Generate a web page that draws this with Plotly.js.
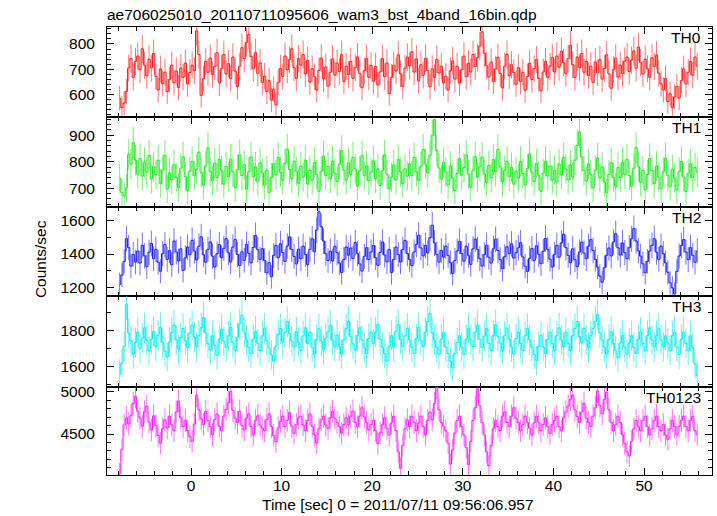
<!DOCTYPE html>
<html><head><meta charset="utf-8">
<script src="https://cdn.plot.ly/plotly-3.0.1.min.js"></script>
<style>html,body{margin:0;padding:0;background:#fff;}#chart{width:717px;height:516px;}</style>
</head><body><div id="chart"></div>
<script>
// ---- data ----
const tStart = -8;        // first bin start [sec]
const binSize = 0.25;     // bin width [sec]
const bandNames = ['TH0', 'TH1', 'TH2', 'TH3', 'TH0123'];
const xTickVals = [0, 10, 20, 30, 40, 50];

const th0 = [
585,548,566,612,705,742,668,731,752,698,781,716,674,739,705,762,
672,618,701,643,688,612,659,716,647,693,628,705,668,724,642,687,
716,694,852,758,597,662,731,688,744,679,712,765,646,703,758,681,
722,664,748,693,631,712,785,742,806,838,751,702,766,684,725,648,
673,612,655,578,621,559,648,703,671,752,698,738,781,706,664,742,
716,758,682,735,649,702,671,618,695,744,662,709,633,688,741,677,
724,691,758,652,712,679,731,664,706,749,683,627,694,742,668,715,
652,711,638,689,742,671,725,604,668,716,693,757,682,631,704,748,
713,769,689,741,654,718,676,743,695,631,702,668,739,685,712,646,
672,618,694,733,661,712,645,698,752,671,724,689,758,711,746,792,
848,763,714,669,728,652,701,747,683,626,712,759,674,718,687,641,
706,652,688,617,671,724,659,702,738,664,615,689,731,668,712,746,
689,752,708,771,726,684,742,795,718,667,748,706,762,688,731,675,
712,648,729,686,738,661,703,757,682,625,698,744,669,716,683,732,
748,691,736,772,704,788,726,681,739,702,668,745,711,756,684,642,
618,664,572,603,548,591,632,586,655,701,642,688,731,676,748,712];

const th1 = [
738,684,671,702,828,791,872,806,753,812,746,798,761,824,735,781,
752,806,718,769,824,697,758,732,789,741,703,776,818,744,692,765,
801,748,772,836,759,712,784,852,763,729,795,741,808,768,716,782,
744,809,762,703,771,826,748,789,697,762,818,743,781,724,796,758,
712,768,684,741,793,752,816,761,729,794,847,771,736,802,764,719,
783,742,806,716,768,731,797,752,689,764,821,748,782,736,803,757,
726,791,842,768,731,796,752,817,774,708,766,823,748,785,729,761,
803,736,772,711,768,826,754,697,742,788,731,809,762,718,774,746,
792,748,816,763,729,781,846,792,758,823,898,958,842,776,735,798,
761,712,784,738,692,756,812,749,778,826,753,704,768,819,742,781,
817,754,721,786,739,808,762,846,781,724,768,801,743,779,716,763,
738,801,756,712,774,829,761,726,793,748,689,757,802,746,784,731,
768,724,792,751,816,773,732,788,742,806,861,912,818,766,727,792,
751,702,768,814,739,781,724,683,752,796,741,706,778,741,798,752,
809,748,707,776,853,781,723,768,694,752,812,766,717,784,742,698,
763,814,748,706,772,738,694,762,801,742,688,756,792,741,778,761];

const th2 = [
1218,1274,1356,1492,1438,1328,1397,1352,1418,1346,1452,1389,1324,1411,1463,1372,
1428,1351,1297,1402,1456,1368,1421,1336,1478,1412,1358,1431,1302,1377,1442,1396,
1482,1418,1364,1447,1503,1396,1351,1428,1472,1387,1322,1401,1456,1378,1434,1492,
1408,1352,1441,1486,1397,1331,1413,1362,1458,1404,1347,1439,1511,1426,1368,1432,
1361,1287,1348,1264,1392,1451,1378,1462,1409,1356,1448,1503,1427,1386,1341,1429,
1372,1447,1398,1336,1428,1491,1413,1544,1652,1563,1478,1402,1361,1417,1358,1446,
1408,1346,1289,1367,1442,1393,1436,1374,1468,1402,1341,1298,1386,1438,1367,1412,
1451,1378,1332,1409,1472,1394,1353,1426,1289,1368,1441,1397,1352,1427,1481,1403,
1368,1331,1412,1457,1512,1436,1389,1452,1406,1497,1572,1466,1398,1352,1421,1381,
1447,1392,1348,1283,1362,1418,1476,1403,1357,1446,1392,1338,1431,1489,1427,1372,
1328,1396,1452,1381,1346,1432,1488,1421,1367,1312,1384,1443,1402,1461,1376,1408,
1437,1468,1382,1327,1296,1374,1432,1361,1449,1398,1342,1416,1493,1428,1369,1322,
1398,1452,1381,1466,1519,1438,1392,1348,1431,1366,1324,1412,1471,1406,1372,1447,
1486,1421,1368,1322,1268,1231,1318,1392,1436,1388,1472,1521,1437,1394,1466,1408,
1372,1438,1491,1552,1478,1419,1387,1341,1288,1356,1418,1452,1492,1411,1368,1447,
1402,1347,1291,1228,1198,1162,1296,1388,1451,1486,1412,1367,1438,1392,1351,1418];

const th3 = [
1552,1618,1712,1948,1786,1742,1668,1734,1792,1701,1758,1816,1745,1688,1752,1796,
1712,1774,1818,1731,1684,1652,1736,1789,1832,1748,1695,1761,1812,1743,1706,1788,
1831,1764,1708,1772,1816,1874,1788,1726,1692,1771,1718,1662,1752,1809,1741,1706,
1772,1818,1731,1689,1763,1838,1886,1792,1748,1706,1671,1752,1796,1727,1688,1771,
1814,1743,1702,1664,1628,1712,1778,1812,1736,1789,1852,1784,1742,1708,1793,1731,
1689,1771,1816,1728,1792,1706,1668,1752,1811,1743,1692,1758,1794,1831,1747,1708,
1776,1712,1668,1751,1812,1852,1768,1726,1691,1773,1816,1748,1703,1672,1756,1792,
1728,1791,1834,1752,1706,1671,1628,1712,1772,1708,1796,1834,1751,1709,1771,1814,
1748,1706,1672,1756,1818,1746,1712,1792,1852,1896,1788,1748,1706,1668,1752,1791,
1708,1671,1628,1592,1671,1733,1772,1708,1666,1752,1813,1748,1711,1792,1831,1752,
1706,1771,1812,1728,1688,1772,1833,1768,1731,1689,1772,1814,1752,1708,1668,1756,
1792,1728,1688,1771,1812,1748,1709,1666,1631,1712,1772,1708,1671,1752,1791,1728,
1688,1772,1816,1748,1708,1792,1731,1688,1772,1812,1852,1768,1731,1813,1748,1706,
1771,1812,1852,1892,1788,1748,1706,1668,1752,1796,1728,1688,1648,1731,1772,1708,
1668,1731,1772,1706,1672,1751,1792,1728,1688,1772,1816,1748,1708,1772,1813,1748,
1708,1771,1731,1688,1772,1791,1708,1666,1752,1792,1728,1688,1771,1706,1612,1548];

const th0123 = [
4028,4312,4608,4692,4621,4718,4862,4948,4771,4688,4592,4763,4831,4642,4548,4716,
4598,4482,4391,4562,4668,4571,4712,4608,4538,4762,4892,4691,4588,4662,4541,4468,
4412,4618,4962,4788,4681,4612,4768,4662,4588,4492,4671,4738,4592,4538,4712,4792,
4871,5008,4782,4688,4638,4771,4602,4548,4692,4738,4588,4488,4662,4718,4608,4571,
4538,4671,4738,4588,4482,4408,4572,4652,4712,4588,4662,4758,4592,4508,4612,4691,
4712,4608,4538,4662,4738,4592,4488,4392,4562,4668,4712,4608,4568,4692,4768,4688,
4638,4588,4508,4612,4692,4608,4712,4772,4638,4588,4712,4812,4708,4638,4548,4612,
4662,4538,4388,4512,4612,4692,4568,4488,4632,4712,4538,4288,4092,4362,4562,4668,
4588,4712,4638,4538,4632,4712,4588,4488,4662,4762,4668,4862,5058,4788,4638,4592,
4538,4392,4142,4312,4512,4662,4712,4588,4488,4338,4138,4412,4662,4812,5038,4838,
4638,4488,4288,4122,4362,4562,4662,4588,4538,4712,4762,4638,4588,4712,4812,4688,
4638,4538,4612,4712,4638,4568,4488,4632,4712,4638,4538,4612,4692,4588,4508,4612,
4662,4712,4588,4538,4692,4762,4832,4912,4962,4788,4708,4638,4762,4862,4688,4638,
4588,4712,4812,5012,4838,4738,4912,4998,4788,4638,4538,4612,4712,4638,4488,4388,
4288,4238,4412,4562,4662,4588,4538,4662,4712,4588,4488,4562,4662,4712,4588,4538,
4612,4488,4438,4562,4662,4588,4488,4592,4662,4712,4588,4538,4662,4712,4538,4492];

// ---- styles / layout helpers ----
const series = [th0, th1, th2, th3, th0123];
const lineColors = ['#ff1a1a', '#1aee1a', '#1a1aff', '#00f0f0', '#ff1aff'];
const errColors = ['rgba(255,0,0,0.55)', 'rgba(0,230,0,0.55)', 'rgba(0,0,255,0.55)', 'rgba(0,230,230,0.6)', 'rgba(255,0,255,0.55)'];
const yRanges = [[513, 867], [631, 970], [1149, 1683], [1486, 1995], [4012, 5065]];
const yDticks = [100, 100, 200, 200, 500];
const yMinor = [20, 20, 100, 100, 100];
const domains = [[0.8002, 1], [0.5989, 0.8002], [0.3996, 0.5989], [0.1975, 0.3996], [0, 0.1975]];
const FONT = 'Liberation Sans, Arial, sans-serif';

const traces = series.map((vals, i) => {
  const x = vals.map((_, k) => tStart + binSize * (k + 0.5));
  const err = vals.map(v => Math.sqrt(v * binSize) / binSize);
  const sfx = i === 0 ? '' : String(i + 1);
  return {
    x: x, y: vals, type: 'scatter', mode: 'lines',
    line: {shape: 'hvh', color: lineColors[i], width: 1},
    error_y: {type: 'data', array: err, visible: true, thickness: 1, width: 0, color: errColors[i]},
    xaxis: 'x' + sfx, yaxis: 'y' + sfx, hoverinfo: 'skip', showlegend: false
  };
});

const layout = {
  width: 717, height: 516,
  margin: {l: 107, r: 5, t: 27, b: 41},
  paper_bgcolor: '#fff', plot_bgcolor: '#fff',
  font: {family: FONT, size: 15.5, color: '#000'},
  title: {text: 'ae706025010_20110711095606_wam3_bst_4band_16bin.qdp',
          x: 0, xref: 'paper', xanchor: 'left', y: 1 - 15 / 516, yref: 'container', yanchor: 'middle',
          font: {family: FONT, size: 15.5, color: '#000'}},
  showlegend: false,
  annotations: []
};

for (let i = 0; i < 5; i++) {
  const sfx = i === 0 ? '' : String(i + 1);
  layout['xaxis' + sfx] = {
    domain: [0, 1], anchor: 'y' + sfx, range: [-9.27, 57.5],
    tickvals: xTickVals, ticks: 'inside', ticklen: 7, tickcolor: '#000', tickwidth: 1,
    minor: {dtick: 2, tick0: 0, ticks: 'inside', ticklen: 4, tickcolor: '#000', showgrid: false},
    showline: true, linecolor: '#000', linewidth: 1, mirror: 'ticks',
    showgrid: false, zeroline: false, showticklabels: i === 4,
    ticklabelstandoff: -4,
    matches: i === 0 ? undefined : 'x'
  };
  layout['yaxis' + sfx] = {
    domain: domains[i], anchor: 'x' + sfx, range: yRanges[i],
    dtick: yDticks[i], tick0: 0, ticks: 'inside', ticklen: 7, tickcolor: '#000', tickwidth: 1,
    minor: {dtick: yMinor[i], tick0: 0, ticks: 'inside', ticklen: 4, tickcolor: '#000', showgrid: false},
    showline: true, linecolor: '#000', linewidth: 1, mirror: 'ticks',
    showgrid: false, zeroline: false, ticklabelstandoff: 8
  };
  layout.annotations.push({
    text: bandNames[i], xref: 'paper', yref: 'paper', x: 0.985, y: domains[i][1],
    xanchor: 'right', yanchor: 'top', showarrow: false, font: {family: FONT, size: 15.5, color: '#000'}
  });
}
layout.annotations.push({
  text: 'Time [sec] 0 = 2011/07/11 09:56:06.957', xref: 'paper', yref: 'paper',
  x: 0.481, y: -0.066, xanchor: 'center', yanchor: 'middle', showarrow: false,
  font: {family: FONT, size: 15.5, color: '#000'}
});
layout.annotations.push({
  text: 'Counts/sec', xref: 'paper', yref: 'paper', textangle: -90,
  x: -0.1107, y: 0.482, xanchor: 'center', yanchor: 'middle', showarrow: false,
  font: {family: FONT, size: 15.5, color: '#000'}
});

Plotly.newPlot('chart', traces, layout, {staticPlot: true, displayModeBar: false});
</script>
</body></html>
